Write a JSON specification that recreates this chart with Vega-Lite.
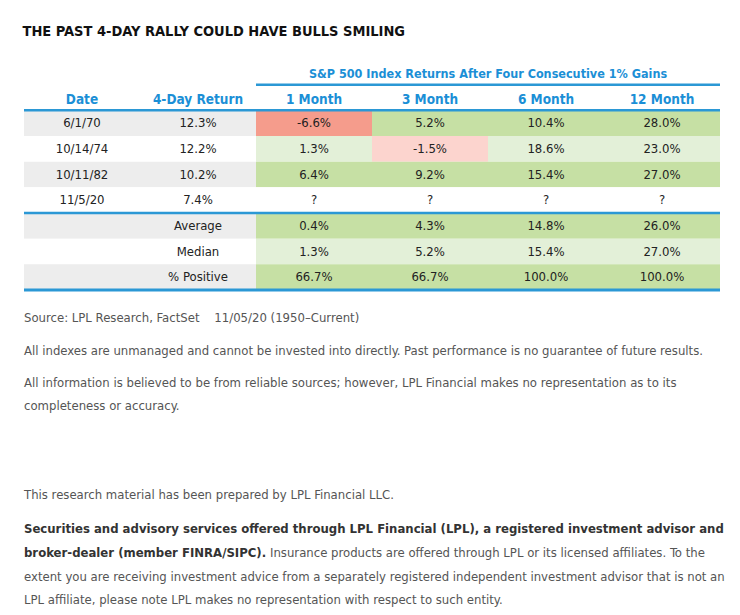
{
  "$schema": "https://vega.github.io/schema/vega-lite/v6.json",
  "background": "white",
  "padding": {"left": 22, "right": 22, "top": 23, "bottom": 0},
  "bounds": "flush",
  "spacing": 0,
  "title": {
    "text": "THE PAST 4-DAY RALLY COULD HAVE BULLS SMILING",
    "anchor": "start",
    "font": "DejaVu Sans Condensed, sans-serif",
    "fontSize": 14.5,
    "fontWeight": "bold",
    "color": "#111111",
    "offset": 20
  },
  "config": {
    "view": {"stroke": null},
    "font": "DejaVu Sans Condensed, sans-serif",
    "text": {"font": "DejaVu Sans Condensed, sans-serif"}
  },
  "datasets": {
    "cells": [
      {"row": "r1", "col": "Date", "text": "6/1/70", "value": null},
      {"row": "r1", "col": "4-Day Return", "text": "12.3%", "value": null},
      {"row": "r1", "col": "1 Month", "text": "-6.6%", "value": -6.6},
      {"row": "r1", "col": "3 Month", "text": "5.2%", "value": 5.2},
      {"row": "r1", "col": "6 Month", "text": "10.4%", "value": 10.4},
      {"row": "r1", "col": "12 Month", "text": "28.0%", "value": 28.0},
      {"row": "r2", "col": "Date", "text": "10/14/74", "value": null},
      {"row": "r2", "col": "4-Day Return", "text": "12.2%", "value": null},
      {"row": "r2", "col": "1 Month", "text": "1.3%", "value": 1.3},
      {"row": "r2", "col": "3 Month", "text": "-1.5%", "value": -1.5},
      {"row": "r2", "col": "6 Month", "text": "18.6%", "value": 18.6},
      {"row": "r2", "col": "12 Month", "text": "23.0%", "value": 23.0},
      {"row": "r3", "col": "Date", "text": "10/11/82", "value": null},
      {"row": "r3", "col": "4-Day Return", "text": "10.2%", "value": null},
      {"row": "r3", "col": "1 Month", "text": "6.4%", "value": 6.4},
      {"row": "r3", "col": "3 Month", "text": "9.2%", "value": 9.2},
      {"row": "r3", "col": "6 Month", "text": "15.4%", "value": 15.4},
      {"row": "r3", "col": "12 Month", "text": "27.0%", "value": 27.0},
      {"row": "r4", "col": "Date", "text": "11/5/20", "value": null},
      {"row": "r4", "col": "4-Day Return", "text": "7.4%", "value": null},
      {"row": "r4", "col": "1 Month", "text": "?", "value": null},
      {"row": "r4", "col": "3 Month", "text": "?", "value": null},
      {"row": "r4", "col": "6 Month", "text": "?", "value": null},
      {"row": "r4", "col": "12 Month", "text": "?", "value": null},
      {"row": "r5", "col": "Date", "text": "", "value": null},
      {"row": "r5", "col": "4-Day Return", "text": "Average", "value": null},
      {"row": "r5", "col": "1 Month", "text": "0.4%", "value": 0.4},
      {"row": "r5", "col": "3 Month", "text": "4.3%", "value": 4.3},
      {"row": "r5", "col": "6 Month", "text": "14.8%", "value": 14.8},
      {"row": "r5", "col": "12 Month", "text": "26.0%", "value": 26.0},
      {"row": "r6", "col": "Date", "text": "", "value": null},
      {"row": "r6", "col": "4-Day Return", "text": "Median", "value": null},
      {"row": "r6", "col": "1 Month", "text": "1.3%", "value": 1.3},
      {"row": "r6", "col": "3 Month", "text": "5.2%", "value": 5.2},
      {"row": "r6", "col": "6 Month", "text": "15.4%", "value": 15.4},
      {"row": "r6", "col": "12 Month", "text": "27.0%", "value": 27.0},
      {"row": "r7", "col": "Date", "text": "", "value": null},
      {"row": "r7", "col": "4-Day Return", "text": "% Positive", "value": null},
      {"row": "r7", "col": "1 Month", "text": "66.7%", "value": 66.7},
      {"row": "r7", "col": "3 Month", "text": "66.7%", "value": 66.7},
      {"row": "r7", "col": "6 Month", "text": "100.0%", "value": 100.0},
      {"row": "r7", "col": "12 Month", "text": "100.0%", "value": 100.0}
    ],
    "headers": [
      {"row": "hdr", "col": "Date", "text": "Date"},
      {"row": "hdr", "col": "4-Day Return", "text": "4-Day Return"},
      {"row": "hdr", "col": "1 Month", "text": "1 Month"},
      {"row": "hdr", "col": "3 Month", "text": "3 Month"},
      {"row": "hdr", "col": "6 Month", "text": "6 Month"},
      {"row": "hdr", "col": "12 Month", "text": "12 Month"}
    ],
    "rules": [
      {"row": "r1"},
      {"row": "r5"}
    ]
  },
  "vconcat": [
    {
      "width": 696,
      "height": 231,
      "layer": [
        {
          "data": {"name": "cells"},
          "mark": {"type": "rect"},
          "encoding": {
            "x": {"field": "col", "type": "nominal", "axis": null, "scale": {"domain": ["Date", "4-Day Return", "1 Month", "3 Month", "6 Month", "12 Month"], "paddingInner": 0, "paddingOuter": 0}},
            "y": {"field": "row", "type": "nominal", "axis": null, "scale": {"domain": ["hdr2", "hdr", "r1", "r2", "r3", "r4", "r5", "r6", "r7"], "paddingInner": 0, "paddingOuter": 0}},
            "fill": {
              "condition": [
                {"test": "isValid(datum.value) && datum.value < 0 && indexof(['r1','r3','r5','r7'], datum.row) >= 0", "value": "#f59c8c"},
                {"test": "isValid(datum.value) && datum.value < 0", "value": "#fcd4ce"},
                {"test": "isValid(datum.value) && indexof(['r1','r3','r5','r7'], datum.row) >= 0", "value": "#c6e0a4"},
                {"test": "isValid(datum.value)", "value": "#e3f0d8"},
                {"test": "indexof(['r1','r3','r5','r7'], datum.row) >= 0", "value": "#ededed"}
              ],
              "value": "#ffffff"
            }
          }
        },
        {
          "data": {"name": "cells"},
          "mark": {"type": "text", "fontSize": 13, "color": "#222222", "baseline": "middle"},
          "encoding": {
            "x": {"field": "col", "type": "nominal"},
            "y": {"field": "row", "type": "nominal"},
            "text": {"field": "text"}
          }
        },
        {
          "data": {"name": "headers"},
          "mark": {"type": "text", "fontSize": 13.5, "fontWeight": "bold", "color": "#1b8fd6", "baseline": "middle", "dy": 2},
          "encoding": {
            "x": {"field": "col", "type": "nominal"},
            "y": {"field": "row", "type": "nominal"},
            "text": {"field": "text"}
          }
        },
        {
          "data": {"values": [{"row": "hdr2", "text": "S&P 500 Index Returns After Four Consecutive 1% Gains"}]},
          "mark": {"type": "text", "fontSize": 12.5, "fontWeight": "bold", "color": "#1b8fd6", "baseline": "middle", "dy": 2},
          "encoding": {
            "x": {"datum": "6 Month", "type": "nominal", "bandPosition": 0},
            "y": {"field": "row", "type": "nominal"},
            "text": {"field": "text"}
          }
        },
        {
          "data": {"values": [{"row": "hdr"}]},
          "mark": {"type": "rule", "color": "#2b98d5", "strokeWidth": 2.5},
          "encoding": {
            "x": {"datum": "1 Month", "type": "nominal", "bandPosition": 0},
            "x2": {"value": "width"},
            "y": {"field": "row", "type": "nominal", "bandPosition": 0}
          }
        },
        {
          "data": {"name": "rules"},
          "mark": {"type": "rule", "color": "#2b98d5", "strokeWidth": 2.5},
          "encoding": {
            "y": {"field": "row", "type": "nominal", "bandPosition": 0}
          }
        },
        {
          "data": {"values": [{"row": "r7"}]},
          "mark": {"type": "rule", "color": "#2b98d5", "strokeWidth": 3},
          "encoding": {
            "y": {"field": "row", "type": "nominal", "bandPosition": 1}
          }
        }
      ]
    },
    {
      "width": 696,
      "height": 28,
      "data": {"values": [{"text": "Source: LPL Research, FactSet\u00a0\u00a0\u00a0 11/05/20 (1950\u2013Current)"}]},
      "mark": {"type": "text", "align": "left", "baseline": "middle", "fontSize": 13, "color": "#555555"},
      "encoding": {"x": {"value": 0}, "y": {"value": "height"}, "text": {"field": "text"}}
    },
    {
      "width": 696,
      "height": 33,
      "data": {"values": [{"text": "All indexes are unmanaged and cannot be invested into directly. Past performance is no guarantee of future results."}]},
      "mark": {"type": "text", "align": "left", "baseline": "middle", "fontSize": 13, "color": "#555555"},
      "encoding": {"x": {"value": 0}, "y": {"value": "height"}, "text": {"field": "text"}}
    },
    {
      "width": 696,
      "height": 32,
      "data": {"values": [{"lines": ["All information is believed to be from reliable sources; however, LPL Financial makes no representation as to its", "completeness or accuracy."]}]},
      "mark": {"type": "text", "align": "left", "baseline": "middle", "fontSize": 13, "lineHeight": 23, "color": "#555555"},
      "encoding": {"x": {"value": 0}, "y": {"value": "height"}, "text": {"field": "lines"}}
    },
    {
      "width": 696,
      "height": 112,
      "data": {"values": [{"text": "This research material has been prepared by LPL Financial LLC."}]},
      "mark": {"type": "text", "align": "left", "baseline": "middle", "fontSize": 13, "color": "#555555"},
      "encoding": {"x": {"value": 0}, "y": {"value": "height"}, "text": {"field": "text"}}
    },
    {
      "width": 696,
      "height": 34,
      "data": {"values": [{"text": "Securities and advisory services offered through LPL Financial (LPL), a registered investment advisor and"}]},
      "mark": {"type": "text", "align": "left", "baseline": "middle", "fontSize": 13, "fontWeight": "bold", "color": "#333333"},
      "encoding": {"x": {"value": 0}, "y": {"value": "height"}, "text": {"field": "text"}}
    },
    {
      "width": 696,
      "height": 24,
      "data": {"values": [{"bold": "broker-dealer (member FINRA/SIPC).", "cont": "Insurance products are offered through LPL or its licensed affiliates. To the"}]},
      "layer": [
        {
          "mark": {"type": "text", "align": "left", "baseline": "middle", "fontSize": 13, "fontWeight": "bold", "color": "#333333"},
          "encoding": {"x": {"value": 0}, "y": {"value": "height"}, "text": {"field": "bold"}}
        },
        {
          "mark": {"type": "text", "align": "left", "baseline": "middle", "fontSize": 13, "color": "#555555", "dx": 246},
          "encoding": {"x": {"value": 0}, "y": {"value": "height"}, "text": {"field": "cont"}}
        }
      ]
    },
    {
      "width": 696,
      "height": 23.5,
      "data": {"values": [{"lines": ["extent you are receiving investment advice from a separately registered independent investment advisor that is not an", "LPL affiliate, please note LPL makes no representation with respect to such entity."]}]},
      "mark": {"type": "text", "align": "left", "baseline": "middle", "fontSize": 13, "lineHeight": 23.7, "color": "#555555"},
      "encoding": {"x": {"value": 0}, "y": {"value": "height"}, "text": {"field": "lines"}}
    }
  ]
}
